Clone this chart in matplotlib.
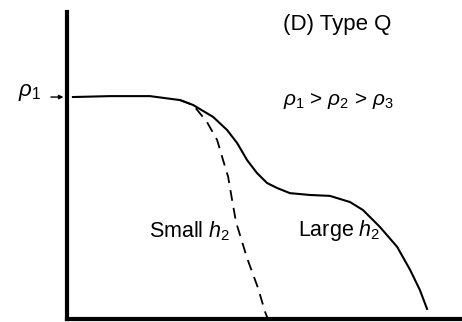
import matplotlib
matplotlib.use("Agg")
import matplotlib.pyplot as plt

# curve data: distance (arbitrary units) vs density
large_x = [0.15, 1.09, 2.11, 2.88, 3.21, 3.72, 4.07, 4.33, 4.58, 4.83, 5.09, 5.34, 5.67, 6.18, 6.69, 7.20, 7.53, 7.96, 8.40, 8.73, 8.98, 9.16]
large_y = [0.723, 0.726, 0.726, 0.713, 0.697, 0.658, 0.616, 0.573, 0.518, 0.476, 0.443, 0.427, 0.410, 0.404, 0.401, 0.381, 0.355, 0.300, 0.235, 0.160, 0.094, 0.033]

small_x = [2.88, 3.21, 3.56, 3.82, 3.97, 4.10, 4.20, 4.30, 4.58, 4.86, 5.04, 5.11]
small_y = [0.713, 0.697, 0.642, 0.583, 0.518, 0.463, 0.388, 0.316, 0.199, 0.101, 0.023, 0.0]

rho1 = 0.723

plt.rcParams["font.family"] = ["Liberation Sans", "DejaVu Sans"]
plt.rcParams["mathtext.fontset"] = "custom"
plt.rcParams["mathtext.rm"] = "Liberation Sans"
plt.rcParams["mathtext.it"] = "Liberation Sans:italic"

fig = plt.figure(figsize=(4.62, 3.22), dpi=100)
ax = fig.add_axes([67 / 462, 3 / 322, 395 / 462, 307 / 322])

ax.plot(large_x, large_y, color="black", lw=1.5, solid_joinstyle="round")
ax.plot(small_x, small_y, color="black", lw=1.3, ls=(0, (6, 4)))

ax.set_xlim(0, 10.05)
ax.set_ylim(0, 1)
for s in ["top", "right"]:
    ax.spines[s].set_visible(False)
for s in ["left", "bottom"]:
    ax.spines[s].set_linewidth(3)
ax.set_xticks([])
ax.set_yticks([])

# rho1 marker on the y axis
ax.annotate("", xy=(-0.02, rho1), xytext=(-0.48, rho1),
            arrowprops=dict(arrowstyle="-|>", color="black", lw=1, mutation_scale=6),
            annotation_clip=False)
ax.text(-0.65, rho1 + 0.015, r"$\rho_1$", ha="right", va="center", fontsize=16, clip_on=False)

ax.text(5.5, 0.958, "(D) Type Q", ha="left", va="center", fontsize=16)
ax.text(5.5, 0.71, r"$\rho_1$ > $\rho_2$ > $\rho_3$", ha="left", va="center", fontsize=15)
ax.text(4.15, 0.287, "Small $h_2$", ha="right", va="center", fontsize=15.5)
ax.text(5.88, 0.287, "Large $h_2$", ha="left", va="center", fontsize=15.5)

fig.savefig("out.png", dpi=100)
